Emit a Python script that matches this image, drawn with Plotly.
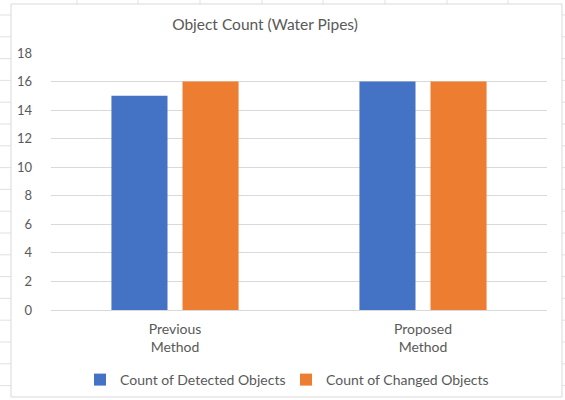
import plotly.graph_objects as go

categories = ["Previous<br>Method", "Proposed<br>Method"]
detected = [15, 16]
changed = [16, 16]
y_ticks = [0, 2, 4, 6, 8, 10, 12, 14, 16, 18]

W, H = 565, 400
L, R, T, B = 51, 18, 53, 90
pw, ph = W - L - R, H - T - B

def px(x):
    return (x - L) / pw

def py(y):
    return (H - B - y) / ph

font = "Lato, Calibri, 'Open Sans', sans-serif"
grey = "#595959"

fig = go.Figure()
fig.add_trace(go.Bar(name="Count of Detected Objects", x=categories, y=detected,
                     marker=dict(color="#4472C4", line=dict(width=0)), legend="legend"))
fig.add_trace(go.Bar(name="Count of Changed Objects", x=categories, y=changed,
                     marker=dict(color="#ED7D31", line=dict(width=0)), legend="legend2"))

shapes = []
cell = "#E1E1E1"
for xv in [77, 138, 200, 262, 323, 385, 447, 508]:
    shapes.append(dict(type="line", xref="paper", yref="paper", x0=px(xv), x1=px(xv),
                       y0=py(0), y1=py(4), line=dict(color=cell, width=1), layer="below"))
for yv in [15 + 21.8 * k for k in range(18)]:
    shapes.append(dict(type="line", xref="paper", yref="paper", x0=px(0), x1=px(11),
                       y0=py(yv), y1=py(yv), line=dict(color=cell, width=1), layer="below"))
    shapes.append(dict(type="line", xref="paper", yref="paper", x0=px(562), x1=px(565),
                       y0=py(yv), y1=py(yv), line=dict(color=cell, width=1), layer="below"))
shapes.append(dict(type="rect", xref="paper", yref="paper", x0=px(11), x1=px(562),
                   y0=py(397), y1=py(4), line=dict(color="#D9D9D9", width=1), layer="below"))

leg_common = dict(orientation="h", yanchor="middle", y=py(380), xanchor="left",
                  font=dict(size=14, color=grey), itemwidth=30, bgcolor="rgba(0,0,0,0)")

fig.update_layout(
    width=W, height=H,
    margin=dict(l=L, r=R, t=T, b=B, autoexpand=False),
    paper_bgcolor="white", plot_bgcolor="white",
    font=dict(family=font, color=grey, size=14),
    title=dict(text="Object Count (Water Pipes)", x=265 / W, xref="container", xanchor="center",
               y=1 - 25 / H, yanchor="middle", font=dict(size=15.5, color=grey)),
    barmode="group", bargap=0.427, bargroupgap=0.211,
    showlegend=True,
    legend=dict(x=px(80), **leg_common),
    legend2=dict(x=px(286), **leg_common),
    shapes=shapes,
)
fig.update_xaxes(showgrid=False, showline=True, linecolor="#D9D9D9", linewidth=1,
                 ticks="", tickfont=dict(size=14, color=grey), ticklabelstandoff=6,
                 automargin=False)
fig.update_yaxes(range=[0, 18], tickvals=y_ticks, showgrid=True, gridcolor="#D9D9D9",
                 gridwidth=1, zeroline=False, showline=False, ticks="",
                 tickfont=dict(size=13, color=grey), ticklabelstandoff=18, automargin=False)

fig.write_html("out.html", config={"displayModeBar": False},
               post_script="document.body.style.margin='0px';")
